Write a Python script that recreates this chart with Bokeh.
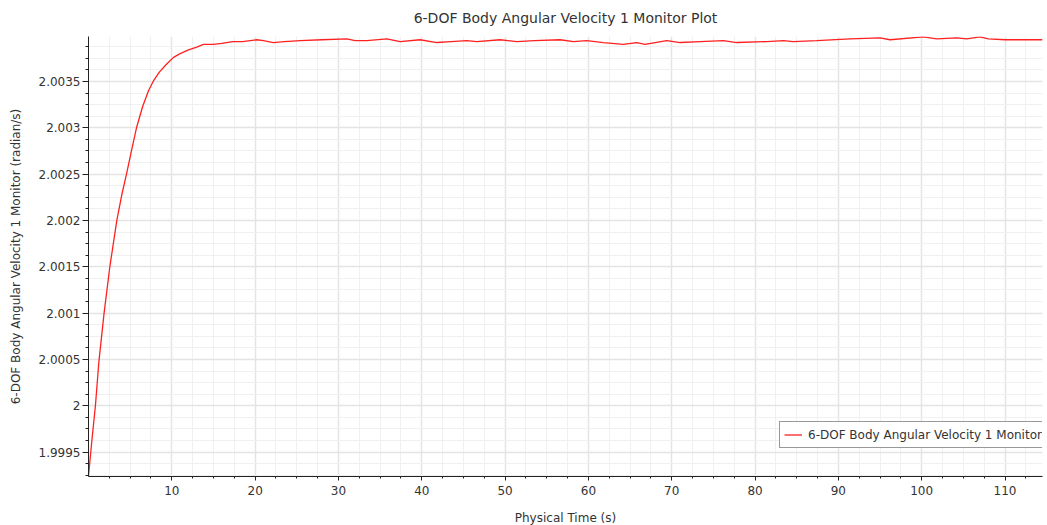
import numpy as np
from bokeh.plotting import figure
from bokeh.models import (FixedTicker, Legend, LegendItem, Range1d,
                          CustomJSTickFormatter, ColumnDataSource)
from bokeh.embed import file_html
from bokeh.resources import INLINE

# ---- data ----
time_s = [0.0, 0.4, 0.83, 1.25, 1.87, 2.56, 3.4, 4.0, 4.56, 5.2, 5.76, 6.5, 7.2, 7.76,
          8.5, 9.3, 10.2, 11.0, 12.0, 13.0, 13.8, 15.0, 16.0, 17.3, 18.5, 20.2, 21.0,
          22.2, 23.5, 25.4, 28.0, 31.0, 32.0, 33.4, 35.8, 37.4, 39.8, 41.8, 43.5, 45.4,
          46.6, 49.4, 51.4, 53.5, 56.6, 58.2, 59.8, 61.8, 64.2, 65.8, 66.8, 69.4, 71.0,
          73.4, 76.2, 77.8, 81.4, 83.4, 84.6, 87.4, 91.4, 95.0, 96.2, 100.2, 101.8,
          104.2, 105.4, 107.0, 108.0, 110.0, 112.0, 114.5]
ang_vel = [1.99924, 1.99962, 2.00000, 2.00048, 2.00100, 2.00150, 2.00200, 2.00228,
           2.00250, 2.00277, 2.00300, 2.00323, 2.00340, 2.00350, 2.00360, 2.00368,
           2.00376, 2.00380, 2.00384, 2.00387, 2.00390, 2.00390, 2.00391, 2.00393,
           2.00393, 2.00395, 2.00394, 2.00392, 2.00393, 2.00394, 2.00395, 2.00396,
           2.00394, 2.00394, 2.00396, 2.00393, 2.00395, 2.00392, 2.00393, 2.00394,
           2.00393, 2.00395, 2.00393, 2.00394, 2.00395, 2.00393, 2.00394, 2.00392,
           2.00390, 2.00392, 2.00390, 2.00394, 2.00392, 2.00393, 2.00394, 2.00392,
           2.00393, 2.00394, 2.00393, 2.00394, 2.00396, 2.00397, 2.00395, 2.00398,
           2.00396, 2.00397, 2.00396, 2.00398, 2.00396, 2.00395, 2.00395, 2.00395]

x_ticks = [10, 20, 30, 40, 50, 60, 70, 80, 90, 100, 110]
y_ticks = [1.9995, 2.0, 2.0005, 2.001, 2.0015, 2.002, 2.0025, 2.003, 2.0035]
y_tick_labels = ["1.9995", "2", "2.0005", "2.001", "2.0015", "2.002", "2.0025", "2.003", "2.0035"]

title_text = "6-DOF Body Angular Velocity 1 Monitor Plot"
x_label = "Physical Time (s)"
y_label = "6-DOF Body Angular Velocity 1 Monitor (radian/s)"
series_name = "6-DOF Body Angular Velocity 1 Monitor"

FONT = "DejaVu Sans"
TXT = "#333333"

p = figure(width=1047, height=525, frame_width=954, frame_height=440,
           output_backend="svg", toolbar_location=None,
           x_range=Range1d(0, 114.5), y_range=Range1d(1.999237, 2.003985),
           min_border_left=88, min_border_right=5, min_border_top=36,
           min_border_bottom=49)

p.title.text = title_text
p.title.align = "center"
p.title.vertical_align = "top"
p.title.text_font = FONT
p.title.text_font_size = "14px"
p.title.text_font_style = "normal"
p.title.text_color = TXT
p.title.text_line_height = 1.0
p.title.standoff = 18

p.outline_line_color = None
p.background_fill_color = "white"
p.border_fill_color = "white"

x_minor = [v for v in np.arange(2.5, 115, 2.5) if v % 10 != 0]
y_minor = list(np.arange(1.99925, 2.0040, 0.000125))
p.xaxis.ticker = FixedTicker(ticks=x_ticks, minor_ticks=x_minor)
p.yaxis.ticker = FixedTicker(ticks=y_ticks, minor_ticks=y_minor)
p.yaxis.formatter = CustomJSTickFormatter(
    args=dict(tvals=y_ticks, tlabs=y_tick_labels),
    code="""
    for (let i = 0; i < tvals.length; i++) {
        if (Math.abs(tvals[i] - tick) < 1e-9) return tlabs[i];
    }
    return String(parseFloat(tick.toFixed(5)));
    """)

for ax in (p.xaxis[0], p.yaxis[0]):
    ax.axis_line_color = "#222222"
    ax.major_tick_line_color = "#222222"
    ax.minor_tick_line_color = "#222222"
    ax.major_tick_in = 0
    ax.minor_tick_in = 0
    ax.major_label_text_font = FONT
    ax.major_label_text_font_size = "12px"
    ax.major_label_text_color = TXT
    ax.axis_label_text_font = FONT
    ax.axis_label_text_font_size = "12px"
    ax.axis_label_text_font_style = "normal"
    ax.axis_label_text_color = TXT

p.xaxis.axis_label = x_label
p.yaxis.axis_label = y_label
p.xaxis.major_tick_out = 4
p.xaxis.minor_tick_out = 2
p.xaxis.major_label_standoff = 5
p.xaxis.axis_label_standoff = 13
p.yaxis.major_tick_out = 6
p.yaxis.minor_tick_out = 3
p.yaxis.major_label_standoff = 2
p.yaxis.axis_label_standoff = 13

p.xgrid.grid_line_color = "#e4e4e4"
p.ygrid.grid_line_color = "#e4e4e4"
p.xgrid.grid_line_width = 1.5
p.ygrid.grid_line_width = 1.5
p.xgrid.minor_grid_line_color = "#f0f0f0"
p.ygrid.minor_grid_line_color = "#f0f0f0"

src = ColumnDataSource(dict(t=time_s, v=ang_vel))
r = p.line("t", "v", source=src, line_color="#ff2020", line_width=1.3)

legend = Legend(items=[LegendItem(label=series_name, renderers=[r])],
                location=(691, 28), padding=4, margin=0, spacing=0,
                glyph_width=18, glyph_height=17, label_standoff=6,
                label_text_font=FONT, label_text_font_size="12px",
                label_text_color=TXT, label_height=17,
                border_line_color="#333333", border_line_width=1,
                background_fill_color="white", background_fill_alpha=1.0)
p.add_layout(legend, "center")

open("out.html", "w").write(file_html(p, INLINE))
